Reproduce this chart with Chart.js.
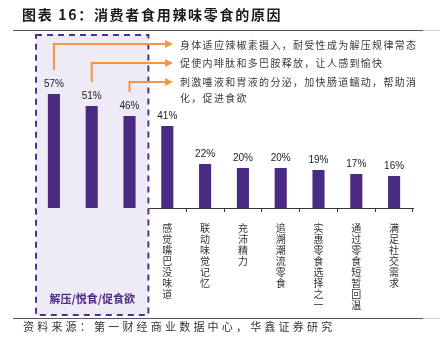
<!DOCTYPE html>
<html>
<head>
<meta charset="utf-8">
<script src="https://cdn.jsdelivr.net/npm/chart.js@4.4.1/dist/chart.umd.min.js"></script>
<style>
    body { margin: 0; background: #fff; }
    #wrap { position: relative; width: 440px; height: 346px; overflow: hidden; font-family: "Noto Sans CJK SC", sans-serif; }
    #chart { position: absolute; left: 0; top: 0; }
    .txt { position: absolute; white-space: nowrap; color: #333; }
    #title { left: 22px; top: 4px; font-size: 14px; font-weight: bold; letter-spacing: 1.7px; color: #1a1a1a; line-height: 20px; }
    #source { left: 23px; top: 318px; font-size: 11px; letter-spacing: 3.2px; line-height: 16px; }
    .note { left: 180px; font-size: 10px; letter-spacing: 1.3px; line-height: 16px; color: #3a3a3a; }
</style>
</head>
<body>
<div id="wrap">
    <canvas id="chart" width="440" height="346"></canvas>
    <div class="txt" id="title">图表 16：消费者食用辣味零食的原因</div>
    <div class="txt note" style="top:37px">身体适应辣椒素摄入，耐受性成为解压规律常态</div>
    <div class="txt note" style="top:55px">促使内啡肽和多巴胺释放，让人感到愉快</div>
    <div class="txt note" style="top:74px">刺激唾液和胃液的分泌，加快肠道蠕动，帮助消</div>
    <div class="txt note" style="top:90px">化，促进食欲</div>
    <div class="txt" id="source">资料来源：第一财经商业数据中心，华鑫证券研究</div>
</div>
<script>
const categories = ['有食辣习惯', '食用感到愉快', '促进食欲', '感觉嘴巴没味道', '联动味觉记忆',
    '充沛精力', '追溯潮流零食', '实惠零食选择之一', '通过零食短暂回温', '满足社交需求'];
const shares = [57, 51, 46, 41, 22, 20, 20, 19, 17, 16];
const groupLabel = '解压/悦食/促食欲';
const groupCount = 3; // first three reasons sit in the dashed box

const purple = '#4a2a82';
const orange = '#f7963e';

// dashed box behind the first group, rules, arrows
const decorPlugin = {
    id: 'decor',
    beforeDatasetsDraw(chart) {
        const ctx = chart.ctx;
        const x = chart.scales.x;
        const half = (x.getPixelForValue(1) - x.getPixelForValue(0)) / 2;
        const left = x.getPixelForValue(0) - half + 1;
        const right = x.getPixelForValue(groupCount - 1) + half;
        ctx.save();
        ctx.fillStyle = '#eeebf6';
        ctx.fillRect(left, 35, right - left, 280);
        ctx.setLineDash([6, 5]);
        ctx.lineWidth = 2;
        ctx.strokeStyle = '#4f3290';
        ctx.strokeRect(left, 35, right - left, 280);
        ctx.setLineDash([]);
        ctx.fillStyle = purple;
        ctx.font = 'bold 11px "Noto Sans CJK SC"';
        ctx.textAlign = 'center';
        ctx.textBaseline = 'middle';
        ctx.fillText(groupLabel, (left + right) / 2, 299);

        // page rules
        ctx.fillStyle = '#555';
        ctx.fillRect(13, 30, 410, 1);
        ctx.fillRect(13, 318, 410, 1);
        ctx.fillStyle = '#ccc';
        ctx.fillRect(423, 30, 17, 1);
        ctx.fillRect(423, 318, 17, 1);
        ctx.restore();
    },
    afterDatasetsDraw(chart) {
        const ctx = chart.ctx;
        const bars = chart.getDatasetMeta(0).data;
        ctx.save();
        ctx.fillStyle = '#222';
        ctx.font = '10px "Liberation Sans", Arial';
        ctx.textAlign = 'center';
        ctx.textBaseline = 'middle';
        bars.forEach((b, i) => ctx.fillText(shares[i] + '%', b.x, b.y - 10));

        // arrows from the first three labels to the notes
        const levels = [44, 63, 82];
        ctx.strokeStyle = orange;
        ctx.fillStyle = orange;
        ctx.lineWidth = 2;
        for (let i = 0; i < groupCount; i++) {
            const b = bars[i];
            const y = levels[i];
            ctx.beginPath();
            ctx.moveTo(b.x, b.y - 24);
            ctx.lineTo(b.x, y);
            ctx.lineTo(166, y);
            ctx.stroke();
            ctx.beginPath();
            ctx.moveTo(165, y - 4);
            ctx.lineTo(173, y);
            ctx.lineTo(165, y + 4);
            ctx.closePath();
            ctx.fill();
        }
        ctx.restore();
    }
};

new Chart(document.getElementById('chart'), {
    type: 'bar',
    data: {
        labels: categories.map(c => c.split('')),
        datasets: [{
            data: shares,
            backgroundColor: purple,
            barPercentage: 0.64,
            categoryPercentage: 0.5
        }]
    },
    options: {
        responsive: false,
        animation: false,
        layout: { padding: { top: 8, left: 35, right: 27, bottom: 0 } },
        plugins: { legend: { display: false }, tooltip: { enabled: false } },
        scales: {
            x: {
                afterFit: (s) => { s.height = 138; },
                border: { display: true, color: '#333', width: 1 },
                grid: { drawOnChartArea: false, drawTicks: true, tickLength: 4, color: '#333' },
                ticks: {
                    autoSkip: false,
                    maxRotation: 0,
                    padding: 11,
                    color: '#333',
                    font: { family: '"Noto Sans CJK SC"', size: 10, lineHeight: 1.1 }
                }
            },
            y: { display: false, min: 0, max: 100 }
        }
    },
    plugins: [decorPlugin]
});
</script>
</body>
</html>
